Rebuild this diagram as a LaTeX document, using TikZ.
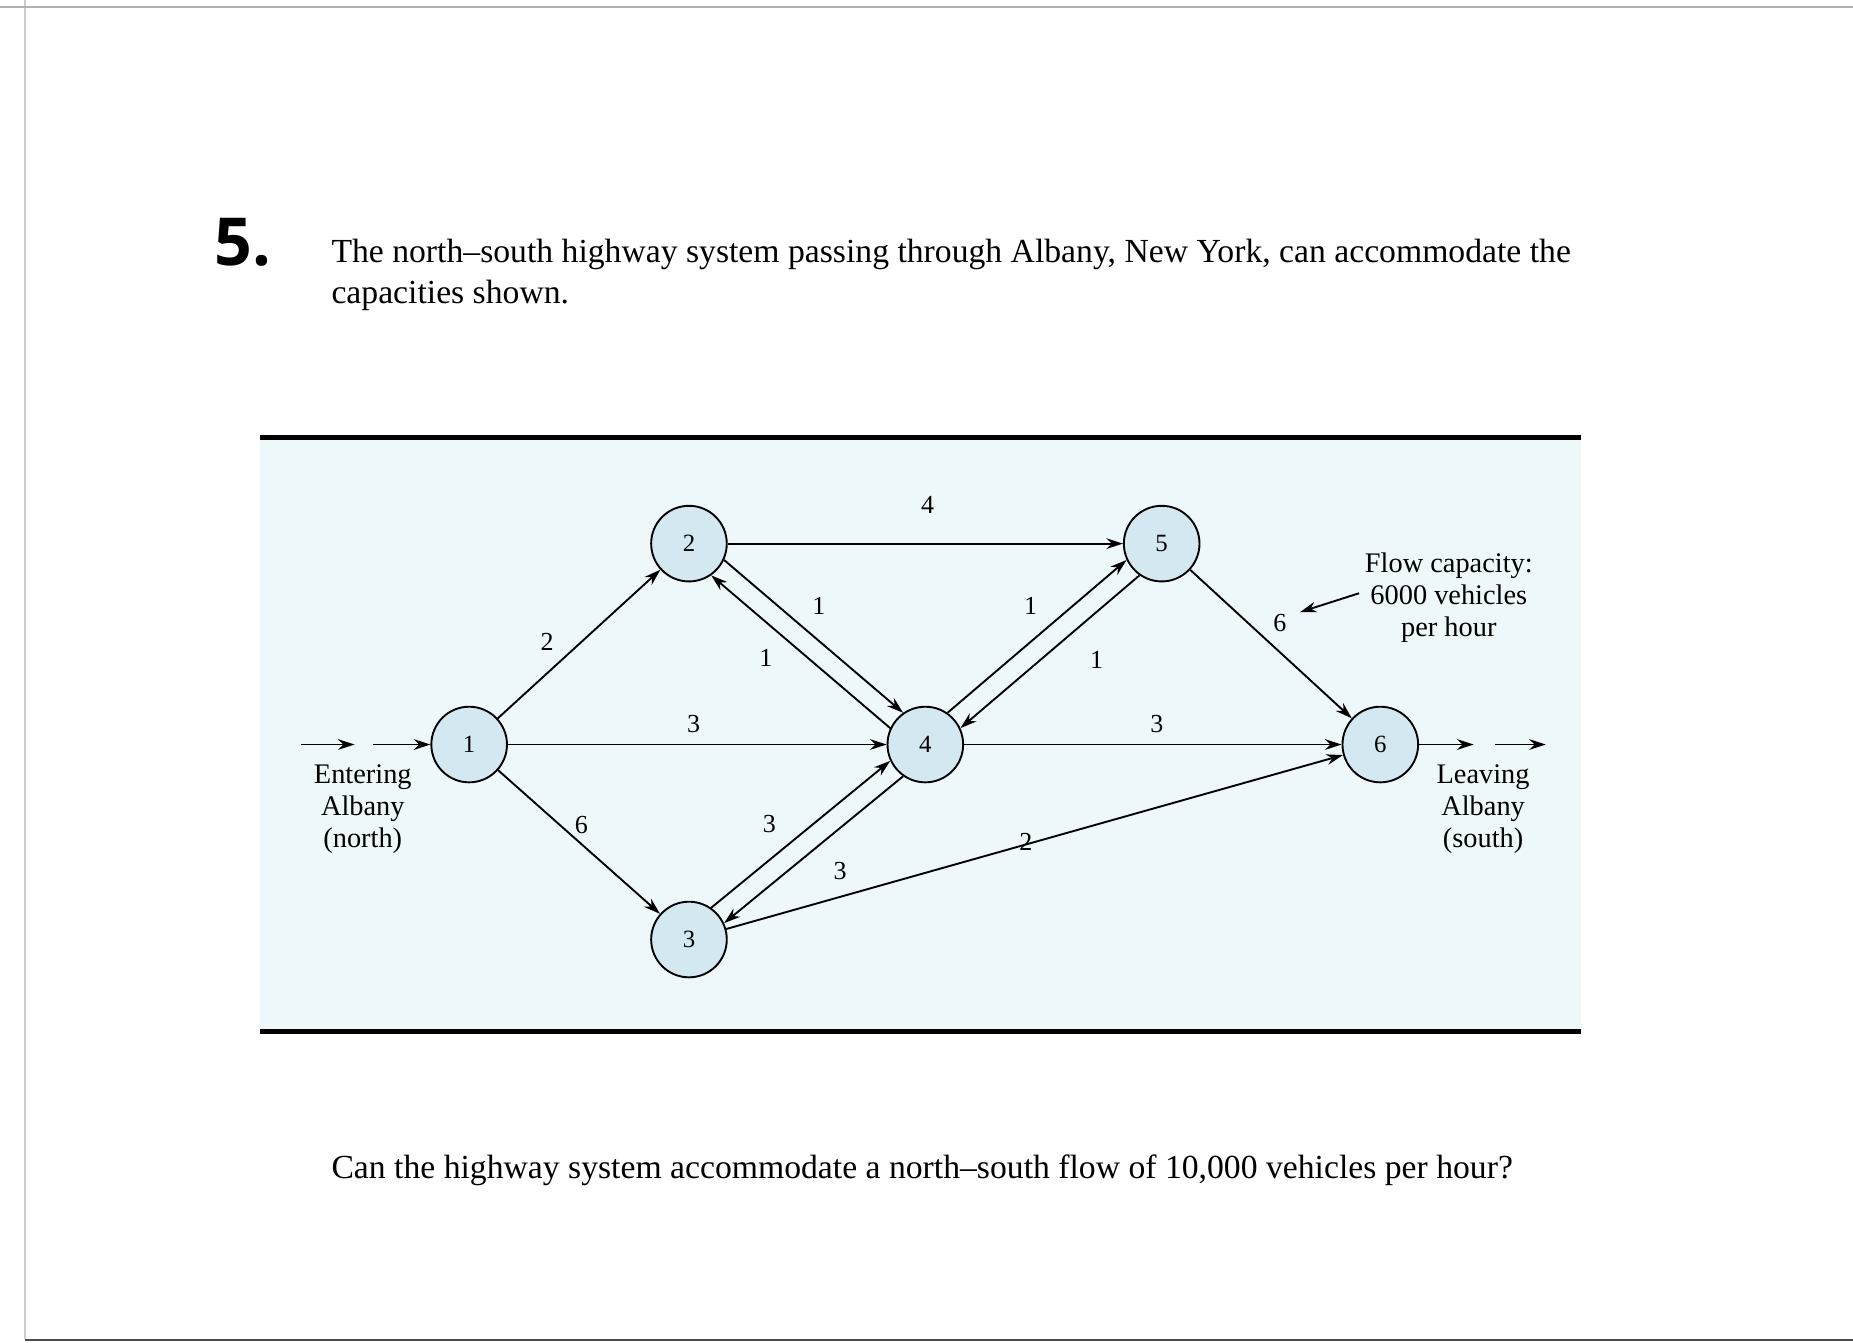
\documentclass[tikz,border=0pt]{standalone}
\usepackage{fontspec}
\setmainfont{Liberation Serif}
\newfontfamily\sansf{Open Sans}
\usetikzlibrary{arrows.meta}
\definecolor{nodefill}{HTML}{D3E8F0}
\definecolor{bandfill}{HTML}{EEF7FA}
\begin{document}
\begin{tikzpicture}[x=1pt,y=-1pt,
  nd/.style={circle,draw,line width=1.6pt,fill=nodefill,minimum size=64pt,inner sep=0pt,font=\fontsize{21}{23}\selectfont},
  ed/.style={line width=1.6pt,-{Stealth[length=14pt,width=9pt]}},
  lb/.style={font=\fontsize{22}{24}\selectfont},
  captxt/.style={font=\fontsize{24}{27}\selectfont,align=center},
  txt/.style={font=\fontsize{28.5}{34}\selectfont,anchor=west}]
\useasboundingbox (0,0) rectangle (1568,1136);
\fill[white] (0,0) rectangle (1568,1136);
\draw[gray!40,line width=1.5pt] (21,0) -- (21,1133);
\draw[gray!60,line width=1.5pt] (0,6) -- (1568,6);
\draw[black!70,line width=2pt] (21,1134) -- (1568,1134);
\node[anchor=west,font=\sansf\bfseries\fontsize{56}{60}\selectfont] (num) at (178,205) {5.};
\node[txt] (t1) at (277,215) {The north--south highway system passing through Albany, New York, can accommodate the};
\node[txt] (t2) at (277,250) {capacities shown.};
\node[txt] (q) at (277,990) {Can the highway system accommodate a north--south flow of 10,000 vehicles per hour?};
\fill[bandfill] (220,370) rectangle (1338,873);
\draw[line width=4.5pt] (220,370) -- (1338,370);
\draw[line width=4.5pt] (220,873) -- (1338,873);
\node[nd] (n1) at (397,630) {1};
\node[nd] (n2) at (583,460) {2};
\node[nd] (n3) at (583,795) {3};
\node[nd] (n4) at (783,630) {4};
\node[nd] (n5) at (983,460) {5};
\node[nd] (n6) at (1168,630) {6};
\draw[ed] (n1) -- (n2);
\draw[ed] (n1) -- (n4);
\draw[ed] (n1) -- (n3);
\draw[ed] (n2) -- (n5);
\draw[ed] (n4) -- (n6);
\draw[ed] (n3) -- (n6);
\draw[ed] (n5) -- (n6);
\draw[ed] (n2.-25) -- (n4.125);
\draw[ed] (n4.155) -- (n2.-55);
\draw[ed] (n4.55) -- (n5.-155);
\draw[ed] (n5.-125) -- (n4.25);
\draw[ed] (n3.55) -- (n4.-155);
\draw[ed] (n4.-125) -- (n3.25);
\node[lb] (l12) at (463,543) {2};
\node[lb] (l14) at (587,613) {3};
\node[lb] (l13) at (492,698) {6};
\node[lb] (l25) at (785,427) {4};
\node[lb] (l24) at (693,513) {1};
\node[lb] (l42) at (648,557) {1};
\node[lb] (l34) at (651,697) {3};
\node[lb] (l43) at (711,737) {3};
\node[lb] (l45) at (872,513) {1};
\node[lb] (l54) at (928,558) {1};
\node[lb] (l46) at (979,613) {3};
\node[lb] (l36) at (868,712) {2};
\node[lb] (l56) at (1083,527) {6};
\coordinate (e1) at (255,630); \coordinate (e2) at (300,630);
\coordinate (e3) at (316,630);
\draw[ed] (e1) -- (e2);
\draw[ed] (e3) -- (n1);
\coordinate (x1) at (1247,630); \coordinate (x2) at (1265,630); \coordinate (x3) at (1308,630);
\draw[ed] (n6) -- (x1);
\draw[ed] (x2) -- (x3);
\node[captxt] (ent) at (307,685) {Entering\\Albany\\(north)};
\node[captxt] (lev) at (1255,685) {Leaving\\Albany\\(south)};
\node[captxt] (fc) at (1226,506) {Flow capacity:\\6000 vehicles\\per hour};
\coordinate (fa) at (1150,502); \coordinate (fb) at (1100,518);
\draw[ed] (fa) -- (fb);
\end{tikzpicture}
\end{document}
